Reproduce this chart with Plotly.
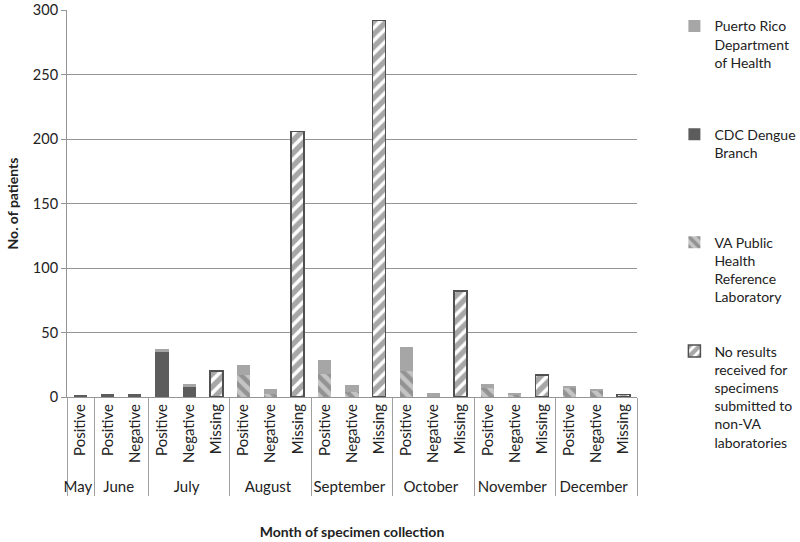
import plotly.graph_objects as go

months = ["May", "June", "June", "July", "July", "July",
          "August", "August", "August", "September", "September", "September",
          "October", "October", "October", "November", "November", "November",
          "December", "December", "December"]
results = ["Positive", "Positive", "Negative", "Positive", "Negative", "Missing",
           "Positive", "Negative", "Missing", "Positive", "Negative", "Missing",
           "Positive", "Negative", "Missing", "Positive", "Negative", "Missing",
           "Positive", "Negative", "Missing"]

no_results = [0, 0, 0, 0, 0, 20, 0, 0, 206, 0, 0, 292, 0, 0, 82, 0, 0, 17, 0, 0, 2]
va_lab =     [0, 0, 0, 0, 0, 0, 17, 2, 0, 18, 4, 0, 20, 0, 0, 7, 2, 0, 7, 5, 0]
cdc =        [1, 2, 2, 35, 8, 0, 0, 0, 0, 0, 0, 0, 0, 0, 0, 0, 0, 0, 0, 0, 0]
prdoh =      [0, 0, 0, 2, 2, 0, 8, 4, 0, 11, 5, 0, 19, 3, 0, 3, 1, 0, 1, 1, 0]

FONT = "Lato"
x = [months, results]

fig = go.Figure()
fig.add_trace(go.Bar(
    x=x, y=no_results, name="No results<br>received for<br>specimens<br>submitted to<br>non-VA<br>laboratories",
    marker=dict(color="white", line=dict(color="#505050", width=1.5),
                pattern=dict(shape="/", fgcolor="#4f4f4f", bgcolor="white", size=9, solidity=0.6)),
    legend="legend4"))
fig.add_trace(go.Bar(
    x=x, y=va_lab, name="VA Public<br>Health<br>Reference<br>Laboratory",
    marker=dict(color="#c4c4c4", line=dict(width=0),
                pattern=dict(shape="\\", fgcolor="#616161", bgcolor="#c4c4c4", size=9, solidity=0.5)),
    legend="legend3"))
fig.add_trace(go.Bar(
    x=x, y=cdc, name="CDC Dengue<br>Branch",
    marker=dict(color="#5c5c5c", line=dict(width=0)),
    legend="legend2"))
fig.add_trace(go.Bar(
    x=x, y=prdoh, name="Puerto Rico<br>Department<br>of Health",
    marker=dict(color="#a6a6a6", line=dict(width=0)),
    legend="legend"))

leg_common = dict(x=0.843, xref="container", yref="container", xanchor="left", yanchor="top",
                  bgcolor="rgba(0,0,0,0)", valign="top",
                  font=dict(family=FONT, size=14, color="#222"), itemwidth=30,
                  tracegroupgap=0)

fig.update_layout(
    showlegend=True,
    barmode="stack",
    bargap=0.52,
    width=800, height=542,
    margin=dict(l=67, r=163, t=10, b=145),
    plot_bgcolor="white", paper_bgcolor="white",
    font=dict(family=FONT, size=14, color="#222"),
    legend=dict(y=0.981, **leg_common),
    legend2=dict(y=0.781, **leg_common),
    legend3=dict(y=0.582, **leg_common),
    legend4=dict(y=0.381, **leg_common),
    yaxis=dict(range=[0, 300], dtick=50, showgrid=True, gridcolor="#959595", gridwidth=1,
               automargin=False, ticklabeloverflow="allow",
               showline=True, linecolor="#959595", ticks="outside", ticklen=5, tickcolor="#959595",
               tickfont=dict(family=FONT, size=14.5, color="#222"),
               title=dict(text="<b>No. of patients</b>", font=dict(family=FONT, size=14), standoff=10),
               zeroline=False),
    xaxis=dict(type="multicategory", tickangle=-90, showdividers=True, dividercolor="#a0a0a0",
               automargin=False,
               dividerwidth=1, showline=True, linecolor="#959595", ticks="",
               tickfont=dict(family=FONT, size=15, color="#222"),
               title=dict(text="<b>Month of specimen collection</b>", font=dict(family=FONT, size=14),
                          standoff=33)),
)

fig.write_html("out.html", config={"displayModeBar": False},
               post_script="document.body.style.margin='0';document.body.style.overflow='hidden';")
